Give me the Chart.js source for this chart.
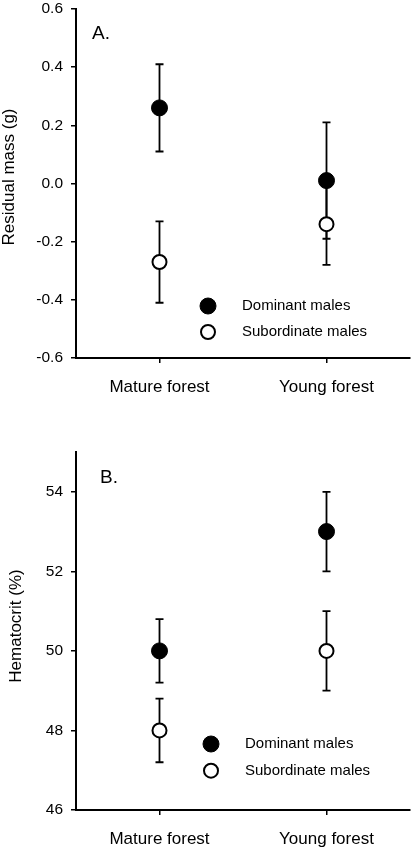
<!DOCTYPE html>
<html>
<head>
    <title>Residual mass and hematocrit by forest type</title>
    <script src="https://cdn.jsdelivr.net/npm/chart.js"></script>
    <style>
        body { margin: 0; background: #fff; }
        canvas { display: block; }
    </style>
</head>
<body>
    <canvas id="massChart" width="419" height="420"></canvas>
    <canvas id="hctChart" width="419" height="430"></canvas>
    <script>
        const forests = ['Mature forest', 'Young forest'];
        const groups = ['Dominant males', 'Subordinate males'];

        // panel A: residual mass (g), mean and error
        const massDominant = [0.26, 0.01];
        const massDominantErr = [0.15, 0.20];
        const massSubordinate = [-0.27, -0.14];
        const massSubordinateErr = [0.14, 0.14];
        const massTicks = [-0.6, -0.4, -0.2, 0.0, 0.2, 0.4, 0.6];

        // panel B: hematocrit (%), mean and error
        const hctDominant = [50, 53];
        const hctDominantErr = [0.8, 1.0];
        const hctSubordinate = [48, 50];
        const hctSubordinateErr = [0.8, 1.0];
        const hctTicks = [46, 48, 50, 52, 54];

        const FONT = '"Liberation Sans", Arial, sans-serif';

        const errorBars = {
            id: 'errorBars',
            beforeDatasetsDraw(chart) {
                const ctx = chart.ctx;
                const xs = chart.scales.x, ys = chart.scales.y;
                ctx.save();
                ctx.strokeStyle = '#000';
                ctx.lineWidth = 1.8;
                chart.data.datasets.forEach(ds => {
                    ds.data.forEach((v, i) => {
                        const px = xs.getPixelForValue(i);
                        const top = ys.getPixelForValue(v + ds.errors[i]);
                        const bot = ys.getPixelForValue(v - ds.errors[i]);
                        ctx.beginPath();
                        ctx.moveTo(px, top); ctx.lineTo(px, bot);
                        ctx.moveTo(px - 4, top); ctx.lineTo(px + 4, top);
                        ctx.moveTo(px - 4, bot); ctx.lineTo(px + 4, bot);
                        ctx.stroke();
                    });
                });
                ctx.restore();
            }
        };

        // panel letter, rotated y title and the legend inside the plot
        const panelText = {
            id: 'panelText',
            afterDraw(chart, args, o) {
                const ctx = chart.ctx;
                ctx.save();
                ctx.fillStyle = '#000';
                ctx.textBaseline = 'middle';
                ctx.textAlign = 'left';
                ctx.font = '19px ' + FONT;
                ctx.fillText(o.letter, o.letterX, o.letterY);

                ctx.save();
                ctx.translate(o.titleX, o.titleY);
                ctx.rotate(-Math.PI / 2);
                ctx.textAlign = 'center';
                ctx.font = '17px ' + FONT;
                ctx.fillText(o.title, 0, 0);
                ctx.restore();

                ctx.font = '15px ' + FONT;
                chart.data.datasets.forEach((ds, i) => {
                    const cy = o.legendY + i * o.legendGap;
                    ctx.beginPath();
                    ctx.arc(o.legendX, cy, ds.pointRadius, 0, Math.PI * 2);
                    ctx.fillStyle = ds.pointBackgroundColor;
                    ctx.fill();
                    ctx.lineWidth = ds.pointBorderWidth;
                    ctx.strokeStyle = ds.pointBorderColor;
                    ctx.stroke();
                    ctx.fillStyle = '#000';
                    ctx.fillText(ds.label, o.legendX + 34, cy);
                });
                ctx.restore();
            }
        };

        function makeChart(id, cfg) {
            const ctx = document.getElementById(id).getContext('2d');
            return new Chart(ctx, {
                type: 'line',
                data: {
                    labels: forests,
                    datasets: [{
                        label: groups[0],
                        data: cfg.dominant,
                        errors: cfg.dominantErr,
                        showLine: false,
                        pointRadius: 8,
                        pointBorderWidth: 1,
                        pointBackgroundColor: '#000',
                        pointBorderColor: '#000'
                    }, {
                        label: groups[1],
                        data: cfg.subordinate,
                        errors: cfg.subordinateErr,
                        showLine: false,
                        pointRadius: 7,
                        pointBorderWidth: 2,
                        pointBackgroundColor: '#fff',
                        pointBorderColor: '#000'
                    }]
                },
                options: {
                    responsive: false,
                    animation: false,
                    layout: { padding: cfg.padding },
                    plugins: {
                        legend: { display: false },
                        tooltip: { enabled: false },
                        panelText: cfg.text
                    },
                    scales: {
                        x: {
                            type: 'category',
                            offset: true,
                            grid: { drawOnChartArea: false, tickLength: 5, color: '#000', lineWidth: 1.5 },
                            border: { color: '#000', width: 2 },
                            ticks: { color: '#000', padding: 14, font: { family: FONT, size: 17 } },
                            afterFit: s => { s.height = cfg.xHeight; s.paddingLeft = 0; s.paddingRight = 0; }
                        },
                        y: {
                            min: cfg.min,
                            max: cfg.max,
                            grid: { drawOnChartArea: false, tickLength: 5, color: '#000', lineWidth: 1.5 },
                            border: { color: '#000', width: 2 },
                            ticks: {
                                color: '#000',
                                padding: 8,
                                font: { family: FONT, size: 15.5 },
                                callback: cfg.format
                            },
                            afterBuildTicks: s => { s.ticks = cfg.ticks.map(v => ({ value: v })); },
                            afterFit: s => { s.width = 76; s.paddingTop = 0; s.paddingBottom = 0; }
                        }
                    }
                },
                plugins: [errorBars, panelText]
            });
        }

        makeChart('massChart', {
            dominant: massDominant, dominantErr: massDominantErr,
            subordinate: massSubordinate, subordinateErr: massSubordinateErr,
            min: -0.6, max: 0.6, ticks: massTicks,
            format: v => (Math.abs(v) < 1e-9 ? 0 : v).toFixed(1),
            padding: { top: 7, right: 6, bottom: 0, left: 0 },
            xHeight: 62,
            text: {
                letter: 'A.', letterX: 92, letterY: 34,
                title: 'Residual mass (g)', titleX: 9, titleY: 177,
                legendX: 208, legendY: 306, legendGap: 26
            }
        });

        makeChart('hctChart', {
            dominant: hctDominant, dominantErr: hctDominantErr,
            subordinate: hctSubordinate, subordinateErr: hctSubordinateErr,
            min: 46, max: 55, ticks: hctTicks,
            format: v => String(v),
            padding: { top: 32, right: 1, bottom: 0, left: 0 },
            xHeight: 40,
            text: {
                letter: 'B.', letterX: 100, letterY: 58,
                title: 'Hematocrit (%)', titleX: 16, titleY: 206,
                legendX: 211, legendY: 324, legendGap: 26.7
            }
        });
    </script>
</body>
</html>
